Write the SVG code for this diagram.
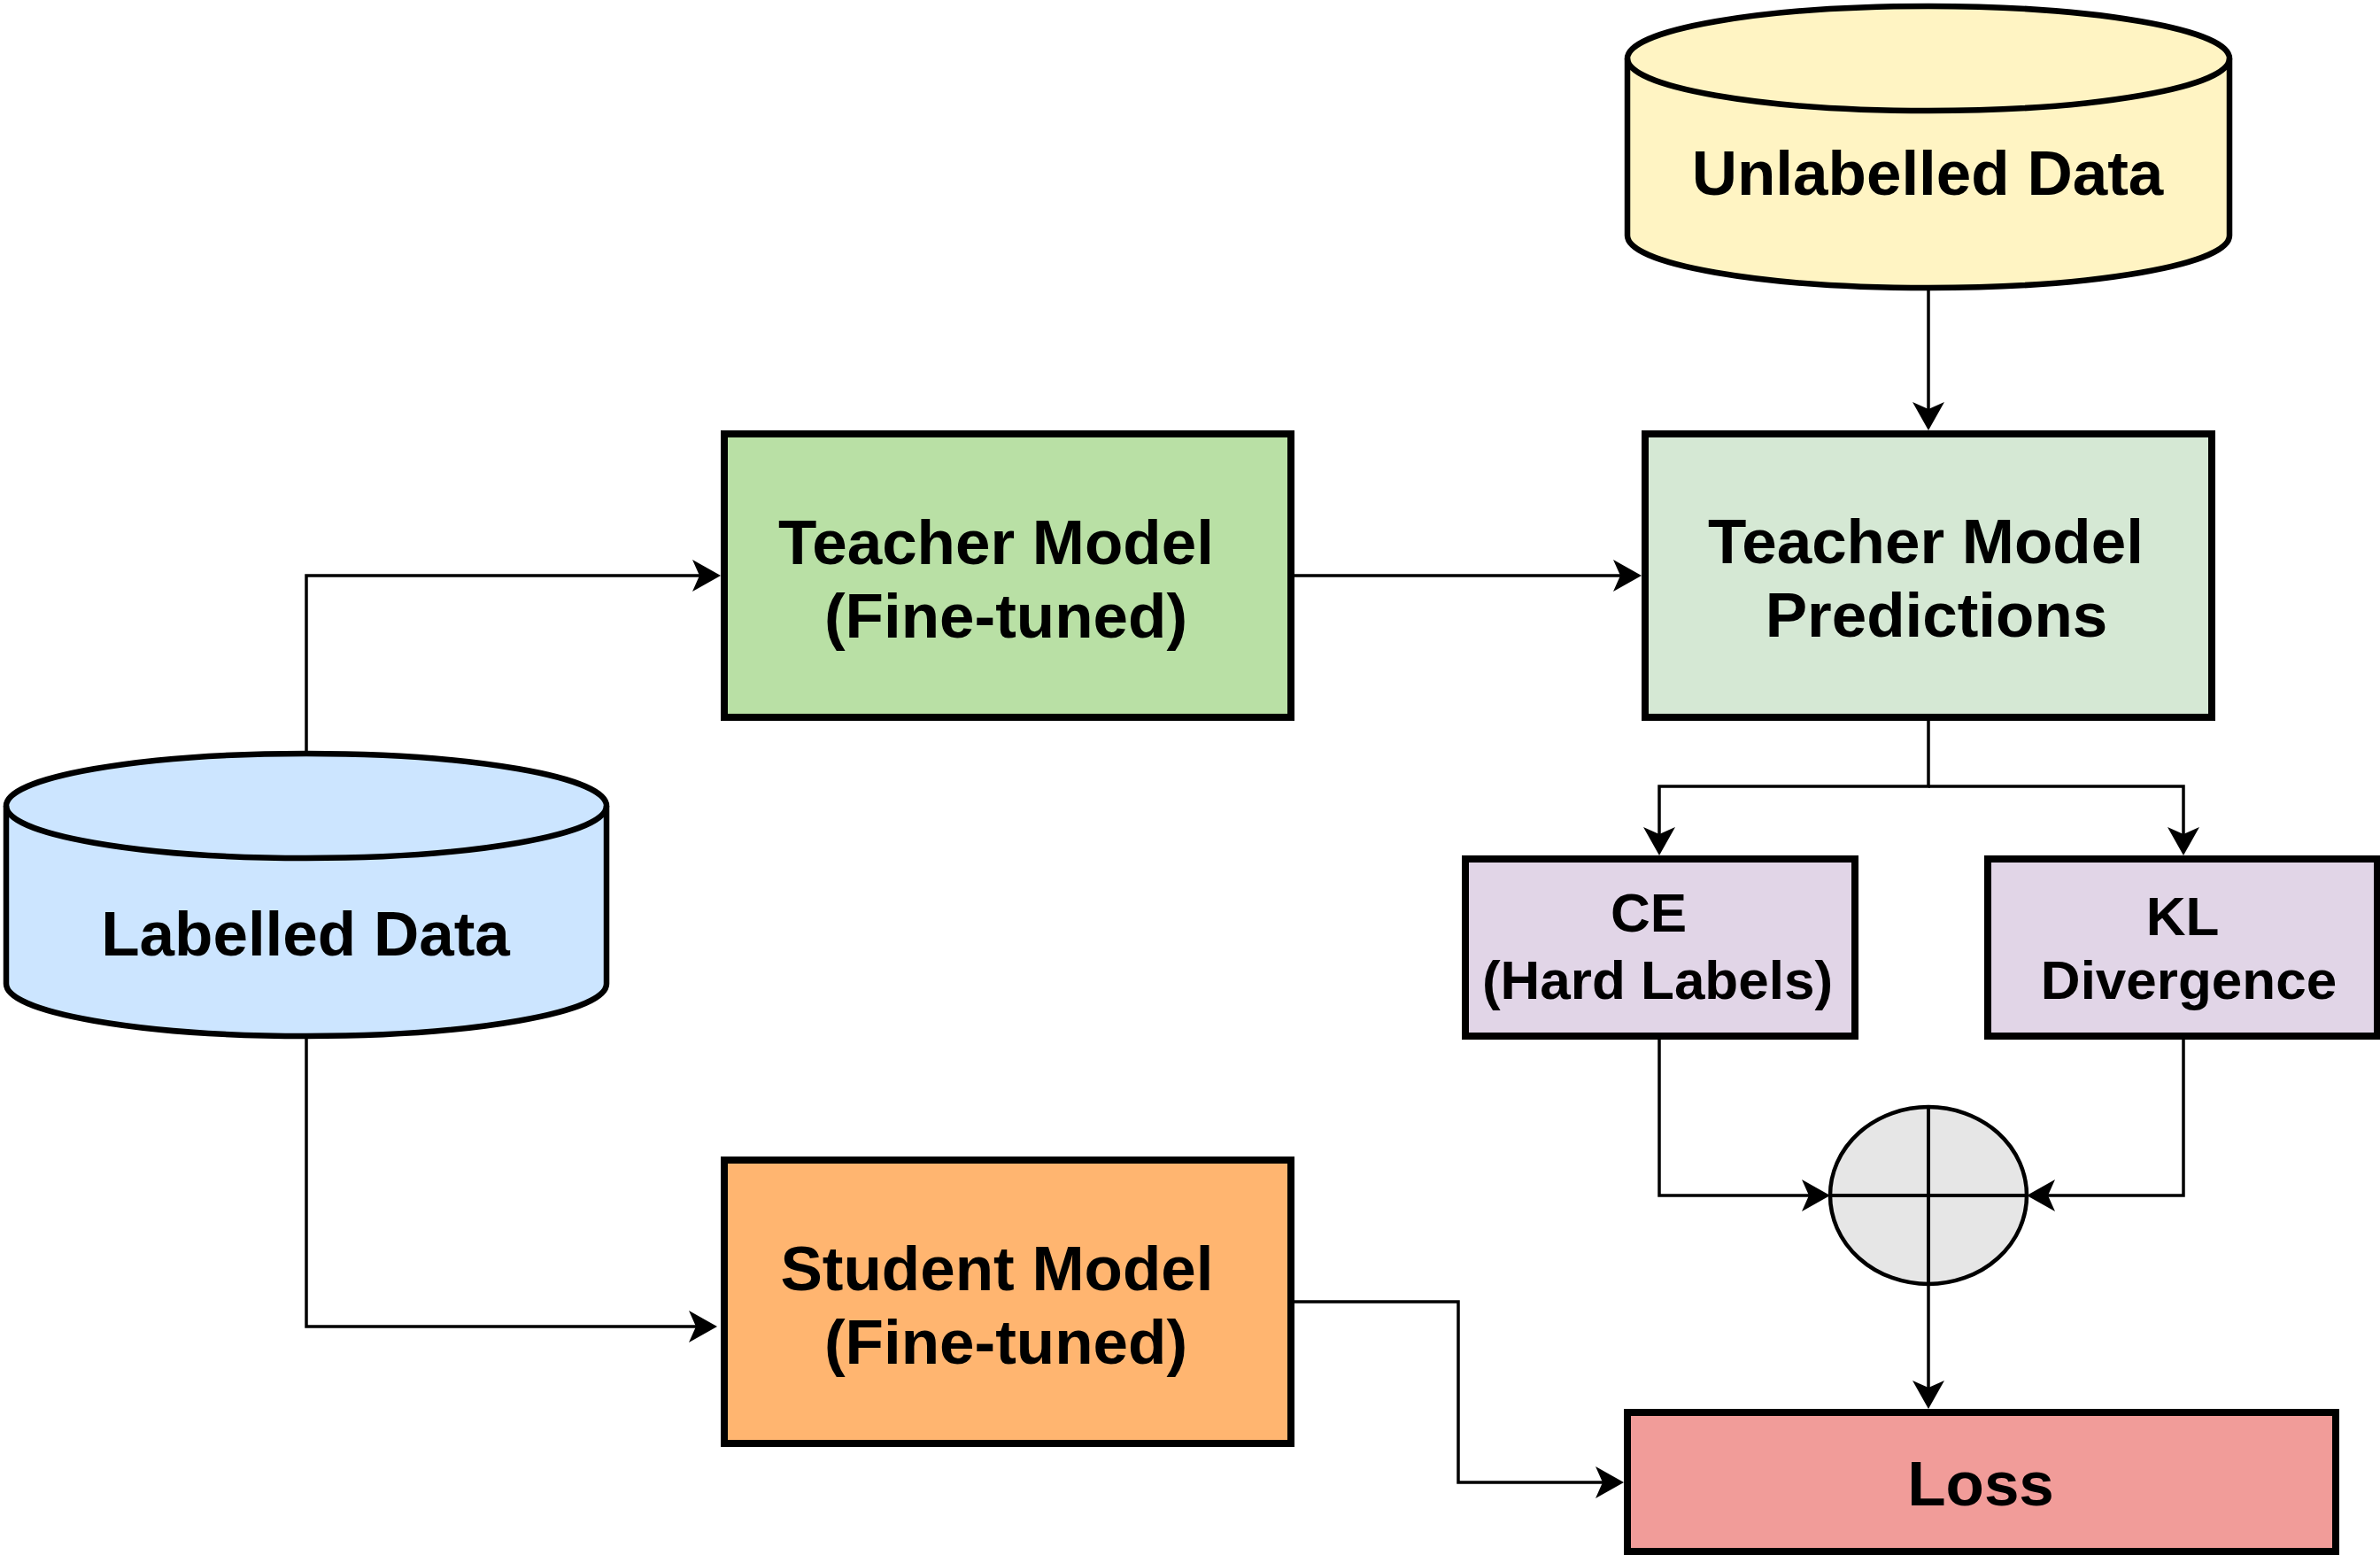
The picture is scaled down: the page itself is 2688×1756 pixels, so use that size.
<svg xmlns="http://www.w3.org/2000/svg" width="2688" height="1756" viewBox="0 0 2688 1756">
<defs>
<style>
.box{stroke:#000;stroke-width:8}
.cyl{stroke:#000;stroke-width:6.5;stroke-linejoin:round}
.lbl{font-family:"Liberation Sans",Arial,Helvetica,sans-serif;font-weight:bold;font-size:71px;fill:#000;text-anchor:middle}
.sm{font-size:62px}
.edge{fill:none;stroke:#000;stroke-width:3.5;marker-end:url(#arr)}
</style>
<marker id="arr" markerUnits="userSpaceOnUse" viewBox="0 0 32 36" refX="22" refY="18" markerWidth="32" markerHeight="36" orient="auto">
<path d="M0,0 L32,18 L0,36 L8,18 Z" fill="#000"/>
</marker>
</defs>
<rect width="2688" height="1756" fill="#fff"/>

<g id="connectors">
<path class="edge" d="M346,851 V650 H804"/>
<path class="edge" d="M346,1170 V1498 H800"/>
<path class="edge" d="M1462,650 H1844"/>
<path class="edge" d="M2178,325 V476"/>
<path class="edge" d="M2178,810 V888 H1874 V956"/>
<path class="edge" d="M2178,888 H2466 V956"/>
<path class="edge" d="M1874,1170 V1350 H2057"/>
<path class="edge" d="M2466,1170 V1350 H2299"/>
<path class="edge" d="M2178,1450 V1581"/>
<path class="edge" d="M1462,1470 H1647 V1674 H1824"/>
</g>

<g id="unlabelled-data">
<path class="cyl" fill="#FFF4C3" d="M1838,66 A340,59 0 0,1 2518,66 V266 A340,59 0 0,1 1838,266 Z"/>
<path class="cyl" fill="none" d="M1838,66 A340,59 0 0,0 2518,66"/>
<text class="lbl" x="2177" y="220">Unlabelled Data</text>
</g>

<g id="labelled-data">
<path class="cyl" fill="#CCE5FF" d="M7,910 A339,59 0 0,1 685,910 V1111 A339,59 0 0,1 7,1111 Z"/>
<path class="cyl" fill="none" d="M7,910 A339,59 0 0,0 685,910"/>
<text class="lbl" x="345" y="1079">Labelled Data</text>
</g>

<g id="teacher-model">
<rect class="box" x="818" y="490" width="640" height="320" fill="#B9E0A5"/>
<text class="lbl" x="1125" y="637">Teacher Model</text>
<text class="lbl" x="1136" y="720">(Fine-tuned)</text>
</g>

<g id="teacher-predictions">
<rect class="box" x="1858" y="490" width="640" height="320" fill="#D5E8D4"/>
<text class="lbl" x="2175" y="636">Teacher Model</text>
<text class="lbl" x="2187" y="719">Predictions</text>
</g>

<g id="ce">
<rect class="box" x="1655" y="970" width="440" height="200" fill="#E1D5E7"/>
<text class="lbl sm" x="1862" y="1052">CE</text>
<text class="lbl sm" x="1872" y="1128">(Hard Labels)</text>
</g>

<g id="kl">
<rect class="box" x="2245" y="970" width="440" height="200" fill="#E1D5E7"/>
<text class="lbl sm" x="2465" y="1056">KL</text>
<text class="lbl sm" x="2472" y="1128">Divergence</text>
</g>

<g id="sum">
<ellipse cx="2178" cy="1350" rx="111" ry="100" fill="#E6E6E6" stroke="#000" stroke-width="4.5"/>
<path d="M2067,1350 H2289 M2178,1250 V1450" stroke="#000" stroke-width="4" fill="none"/>
</g>

<g id="student-model">
<rect class="box" x="818" y="1310" width="640" height="320" fill="#FFB570"/>
<text class="lbl" x="1126" y="1457">Student Model</text>
<text class="lbl" x="1136" y="1540">(Fine-tuned)</text>
</g>

<g id="loss">
<rect class="box" x="1838" y="1595" width="800" height="157" fill="#F19C99"/>
<text class="lbl" x="2237" y="1700">Loss</text>
</g>
</svg>
